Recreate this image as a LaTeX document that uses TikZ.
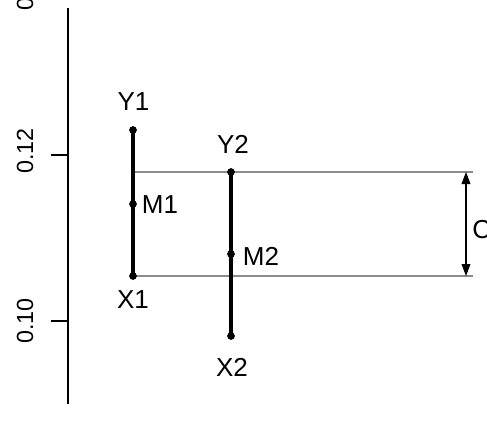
\documentclass[tikz,border=0pt]{standalone}
\usepackage{fontspec}
\setmainfont{Liberation Sans}
\usetikzlibrary{arrows.meta}

\tikzset{
  seg/.style={line width=2.4pt},
  guide/.style={draw={rgb,255:red,140;green,140;blue,140}, line width=0.8pt},
  pt/.style={circle, fill=black, inner sep=0pt, minimum size=5.8pt},
  lbl/.style={font=\fontsize{19.5}{22}\selectfont, inner sep=0pt},
  ticklbl/.style={font=\fontsize{17.5}{20}\selectfont, inner sep=0pt, rotate=90}
}

\begin{document}
\begin{tikzpicture}[x=0.75pt,y=0.75pt,yscale=-1,xscale=1]
\useasboundingbox (0,0) rectangle (487,432);
\clip (0,0) rectangle (487,432);

%Axis
\coordinate (axtop) at (68,8);
\coordinate (axbot) at (68,404);
\draw [line width=1pt] (axtop) -- (axbot) ;
%Ticks
\coordinate (t12) at (68,155);
\coordinate (t10) at (68,321);
\draw [line width=1pt] (t12) -- ++(-17,0) ;
\draw [line width=1pt] (t10) -- ++(-17,0) ;
% Tick labels
\node [ticklbl] (l12) at (25,151) {0.12};
\node [ticklbl] (l10) at (25,321) {0.10};
\node [ticklbl] (l14) at (25,-12) {0.14};

%Points of first interval
\coordinate (Y1) at (133,130);
\coordinate (M1) at (133,204);
\coordinate (X1) at (133,276);
%Points of second interval
\coordinate (Y2) at (231,172);
\coordinate (M2) at (231,254);
\coordinate (X2) at (231,336);

%Guide lines
\coordinate (g0) at (133,172);
\coordinate (g1) at (473,172);
\coordinate (g2) at (473,276);
\draw [guide] (g0) -- (g1) ;
\draw [guide] (X1) -- (g2) ;

%Intervals
\draw [seg] (Y1) -- (X1) ;
\draw [seg] (Y2) -- (X2) ;
\foreach \p in {Y1,M1,X1,Y2,M2,X2}
  \node [pt] at (\p) {};

%Double arrow
\coordinate (ca) at (466,172);
\coordinate (cb) at (466,276);
\draw [line width=1pt, {Triangle[length=9pt,width=6.5pt]}-{Triangle[length=9pt,width=6.5pt]}] (ca) -- (cb) ;

% Text Node
\node [lbl] (nY1) at (133.5,102) {Y1};
\node [lbl] (nM1) at (160,205) {M1};
\node [lbl] (nX1) at (133,300) {X1};
\node [lbl] (nY2) at (233,144) {Y2};
\node [lbl] (nM2) at (261,256) {M2};
\node [lbl] (nX2) at (232,367) {X2};
\node [lbl, anchor=west] (nC) at (472,230) {C};

\end{tikzpicture}
\end{document}
